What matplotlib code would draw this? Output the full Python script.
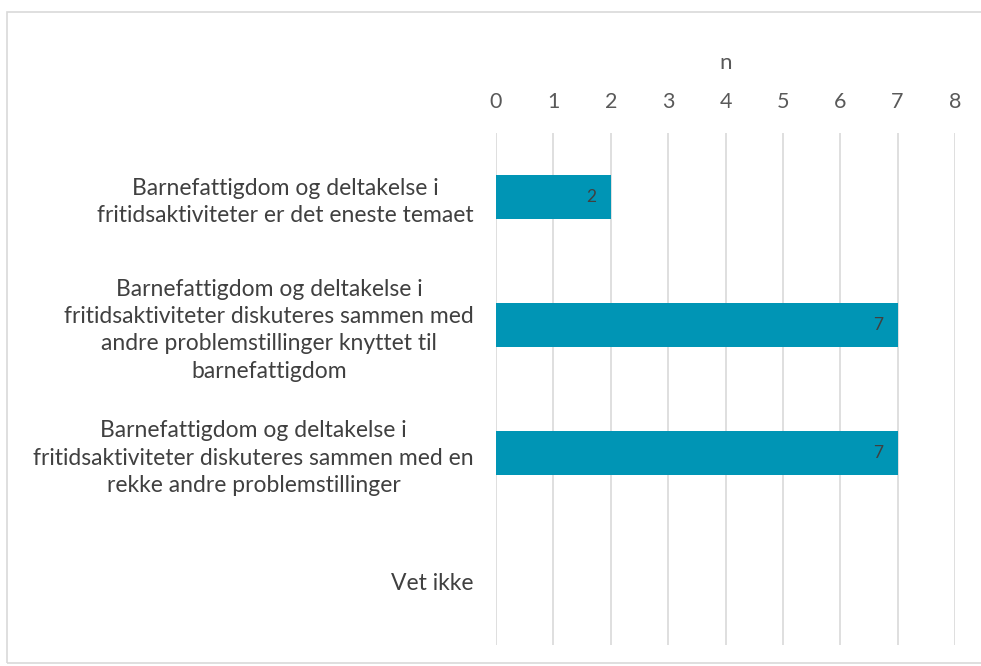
import matplotlib.pyplot as plt
from matplotlib.patches import Rectangle

categories = [
    "Barnefattigdom og deltakelse i\nfritidsaktiviteter er det eneste temaet",
    "Barnefattigdom og deltakelse i\nfritidsaktiviteter diskuteres sammen med\nandre problemstillinger knyttet til\nbarnefattigdom",
    "Barnefattigdom og deltakelse i\nfritidsaktiviteter diskuteres sammen med en\nrekke andre problemstillinger",
    "Vet ikke",
]
values = [2, 7, 7, 0]
ticks = list(range(0, 9))

plt.rcParams['font.family'] = ['Lato', 'DejaVu Sans']

fig = plt.figure(figsize=(9.81, 6.66), dpi=100)
ax = fig.add_axes([496 / 981, 1 - 645 / 666, (955 - 496) / 981, (645 - 133) / 666])

# grey frame around the whole chart
fig.patches.append(Rectangle((7 / 981, 1 - 663 / 666), 1.2, (663 - 12) / 666,
                             transform=fig.transFigure, fill=False,
                             edgecolor='#d9d9d9', linewidth=1.2))

y = list(range(len(categories)))
ax.barh(y, values, height=0.345, color='#0095B5', zorder=2)
for yi, v in zip(y, values):
    if v > 0:
        ax.text(v - 0.25, yi, str(v), ha='right', va='center',
                fontsize=12.5, color='#404040', zorder=3)

ax.set_xlim(0, 8)
ax.set_ylim(len(categories) - 0.5, -0.5)
ax.set_xticks(ticks)
ax.xaxis.tick_top()
ax.xaxis.set_label_position('top')
ax.set_xlabel('n', fontsize=16, color='#595959', labelpad=17)
ax.tick_params(axis='x', length=0, labelsize=15.5, labelcolor='#595959', pad=15)
ax.tick_params(axis='y', length=0, labelsize=16.5, labelcolor='#404040', pad=16)
ax.set_yticks(y)
ax.set_yticklabels(categories)
for lab in ax.get_yticklabels():
    lab.set_multialignment('center')
    lab.set_linespacing(1.38)
ax.grid(axis='x', color='#d9d9d9', linewidth=1.2, zorder=0)
for s in ax.spines.values():
    s.set_visible(False)

fig.savefig('out.png', dpi=100)
